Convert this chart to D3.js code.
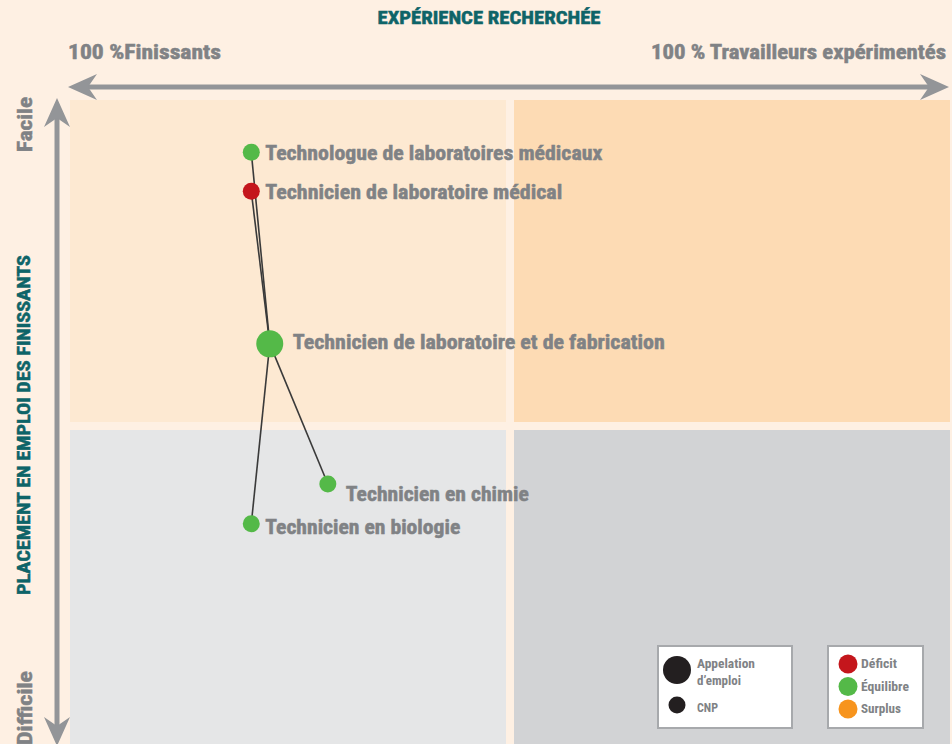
<!DOCTYPE html>
<html lang="fr">
<head>
<meta charset="UTF-8">
<title>Expérience recherchée</title>
<script src="https://d3js.org/d3.v7.min.js"></script>
<style>
  body { margin: 0; background: #fef0e3; }
  svg { display: block; }
  text { font-family: "Liberation Sans Narrow", "Roboto Condensed", "Arial Narrow", "Liberation Sans", sans-serif; font-weight: bold; }
</style>
</head>
<body>
<script>
// data
var names = ["Technologue de laboratoires médicaux", "Technicien de laboratoire médical",
  "Technicien de laboratoire et de fabrication", "Technicien en chimie", "Technicien en biologie"];
var experience = [20.6, 20.6, 22.7, 29.3, 20.6];   // 0 = finissants, 100 = travailleurs expérimentés
var placement = [92.0, 86.0, 62.6, 41.1, 35.0];    // 0 = difficile, 100 = facile
var statusOf = ["Équilibre", "Déficit", "Équilibre", "Équilibre", "Équilibre"];
var level = ["CNP", "CNP", "Appellation", "CNP", "CNP"];
var parentOf = [2, 2, null, 2, 2];
var statusNames = ["Déficit", "Équilibre", "Surplus"];

// layout
var W = 952, H = 744;
var labelW = [337, 297, 372, 183, 195];
var labelNudge = [[14, 0], [14, 0], [23, -2], [18, 9], [14, 3]];

var color = d3.scaleOrdinal().domain(statusNames).range(["#c4161c", "#54b948", "#f7941d"]);
var radius = d3.scaleOrdinal().domain(["Appellation", "CNP"]).range([13.5, 8.5]);

var x = d3.scaleLinear().domain([0, 100]).range([70, 950]);
var y = d3.scaleLinear().domain([0, 100]).range([752, 100]);

var svg = d3.select("body").append("svg").attr("width", W).attr("height", H);
svg.append("rect").attr("width", W).attr("height", H).attr("fill", "#fef0e3");

// quadrants
var quads = [
  { x0: 0, x1: 50, y0: 50, y1: 100, fill: "#fde9d2" },
  { x0: 50, x1: 100, y0: 50, y1: 100, fill: "#fddbb4" },
  { x0: 0, x1: 50, y0: 0, y1: 50, fill: "#e5e6e7" },
  { x0: 50, x1: 100, y0: 0, y1: 50, fill: "#d2d3d5" }
];
var gap = 4;
svg.selectAll(".quad").data(quads).enter().append("rect")
  .attr("class", "quad")
  .attr("x", function (d) { return x(d.x0) + (d.x0 > 0 ? gap : 0); })
  .attr("width", function (d) { return x(d.x1) - x(d.x0) - gap; })
  .attr("y", function (d) { return y(d.y1) + (d.y1 < 100 ? gap : 0); })
  .attr("height", function (d) { return y(d.y0) - y(d.y1) - gap; })
  .attr("fill", function (d) { return d.fill; });

// arrows
var grey = "#939598";
function head(tx, ty, angle) {
  // chevron-like arrow head pointing in direction angle (deg)
  var p = "M0,0 L-29,-13 L-20,0 L-29,13 Z";
  svg.append("path").attr("d", p).attr("fill", grey)
    .attr("transform", "translate(" + tx + "," + ty + ") rotate(" + angle + ")");
}
svg.append("line").attr("x1", 80).attr("x2", 938).attr("y1", 87).attr("y2", 87)
  .attr("stroke", grey).attr("stroke-width", 5);
head(68, 87, 180);
head(949, 87, 0);
svg.append("line").attr("x1", 57).attr("x2", 57).attr("y1", 110).attr("y2", 735)
  .attr("stroke", grey).attr("stroke-width", 5);
head(57, 98, -90);
head(57, 746, 90);

// titles
function heavy(sel, c) {
  return sel.attr("stroke", c).attr("stroke-width", 0.5).attr("fill", c);
}
heavy(svg.append("text").attr("x", 489).attr("y", 24).attr("text-anchor", "middle")
  .attr("font-size", 18)
  .attr("textLength", 223).attr("lengthAdjust", "spacingAndGlyphs")
  .text("EXPÉRIENCE RECHERCHÉE"), "#0e6468");
heavy(svg.append("text").attr("x", 68).attr("y", 59).attr("font-size", 20)
  .attr("textLength", 153).attr("lengthAdjust", "spacingAndGlyphs")
  .text("100 %Finissants"), "#808285");
heavy(svg.append("text").attr("x", 946).attr("y", 59).attr("text-anchor", "end")
  .attr("font-size", 20)
  .attr("textLength", 295).attr("lengthAdjust", "spacingAndGlyphs")
  .text("100 % Travailleurs expérimentés"), "#808285");

heavy(svg.append("text").attr("transform", "translate(30,425) rotate(-90)")
  .attr("text-anchor", "middle").attr("font-size", 18)
  .attr("textLength", 340).attr("lengthAdjust", "spacingAndGlyphs")
  .text("PLACEMENT EN EMPLOI DES FINISSANTS"), "#0e6468");
heavy(svg.append("text").attr("transform", "translate(32,152) rotate(-90)")
  .attr("font-size", 20)
  .attr("textLength", 55).attr("lengthAdjust", "spacingAndGlyphs")
  .text("Facile"), "#808285");
heavy(svg.append("text").attr("transform", "translate(32,745) rotate(-90)")
  .attr("font-size", 20)
  .attr("textLength", 74).attr("lengthAdjust", "spacingAndGlyphs")
  .text("Difficile"), "#808285");

// links
var nodes = names.map(function (n, i) {
  return { name: n, x: experience[i], y: placement[i], status: statusOf[i], level: level[i], parent: parentOf[i], i: i };
});
svg.selectAll(".link").data(nodes.filter(function (d) { return d.parent !== null; }))
  .enter().append("line")
  .attr("class", "link")
  .attr("x1", function (d) { return x(d.x); })
  .attr("y1", function (d) { return y(d.y); })
  .attr("x2", function (d) { return x(nodes[d.parent].x); })
  .attr("y2", function (d) { return y(nodes[d.parent].y); })
  .attr("stroke", "#3a3a3a").attr("stroke-width", 1.6);

// nodes
svg.selectAll(".node").data(nodes).enter().append("circle")
  .attr("class", "node")
  .attr("cx", function (d) { return x(d.x); })
  .attr("cy", function (d) { return y(d.y); })
  .attr("r", function (d) { return radius(d.level); })
  .attr("fill", function (d) { return color(d.status); });

svg.selectAll(".label").data(nodes).enter().append("text")
  .attr("class", "label")
  .attr("x", function (d) { return x(d.x) + labelNudge[d.i][0]; })
  .attr("y", function (d) { return y(d.y) + labelNudge[d.i][1]; })
  .attr("dy", "0.36em")
  .attr("font-size", 21).attr("fill", "#808285")
  .attr("stroke", "#808285").attr("stroke-width", 0.5)
  .attr("textLength", function (d) { return labelW[d.i]; })
  .attr("lengthAdjust", "spacingAndGlyphs")
  .text(function (d) { return d.name; });

// legend: size
var lg1 = svg.append("g");
lg1.append("rect").attr("x", 658).attr("y", 646).attr("width", 134).attr("height", 82)
  .attr("fill", "#fff").attr("stroke", "#a7a9ac").attr("stroke-width", 2);
lg1.append("circle").attr("cx", 677).attr("cy", 670).attr("r", radius("Appellation") + 0.5).attr("fill", "#231f20");
lg1.append("circle").attr("cx", 677).attr("cy", 705).attr("r", radius("CNP")).attr("fill", "#231f20");
lg1.append("text").attr("x", 697).attr("y", 668).attr("font-size", 12).attr("fill", "#808285")
  .attr("textLength", 58).attr("lengthAdjust", "spacingAndGlyphs").text("Appelation");
lg1.append("text").attr("x", 697).attr("y", 685).attr("font-size", 12).attr("fill", "#808285")
  .attr("textLength", 44).attr("lengthAdjust", "spacingAndGlyphs").text("d’emploi");
lg1.append("text").attr("x", 697).attr("y", 712).attr("font-size", 12).attr("fill", "#808285")
  .attr("textLength", 21).attr("lengthAdjust", "spacingAndGlyphs").text("CNP");

// legend: status
var lg2 = svg.append("g");
lg2.append("rect").attr("x", 828).attr("y", 646).attr("width", 95).attr("height", 82)
  .attr("fill", "#fff").attr("stroke", "#a7a9ac").attr("stroke-width", 2);
var legW = [36, 48, 40];
lg2.selectAll(".li").data(statusNames).enter().append("g")
  .attr("transform", function (d, i) { return "translate(848," + (664 + i * 22.5) + ")"; })
  .each(function (d, i) {
    var g = d3.select(this);
    g.append("circle").attr("r", 9.5).attr("fill", color(d));
    g.append("text").attr("x", 13).attr("dy", "0.36em").attr("font-size", 12).attr("fill", "#808285")
      .attr("textLength", legW[i]).attr("lengthAdjust", "spacingAndGlyphs").text(d);
  });
</script>
</body>
</html>
